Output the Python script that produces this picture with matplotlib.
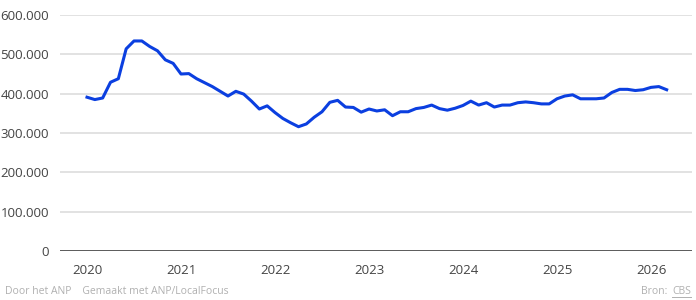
import numpy as np
import matplotlib.pyplot as plt
from matplotlib.ticker import FuncFormatter

plt.rcParams['font.family'] = ['Open Sans', 'DejaVu Sans']

# maandelijkse waarden, jan 2020 t/m mrt 2026
start_year = 2020
values = [391000, 385000, 389000, 429000, 438000, 514000, 534000, 534000, 520000, 509000, 486000, 477000,
          450000, 451000, 438000, 428000, 418000, 406000, 394000, 406000, 399000, 381000, 361000, 369000,
          352000, 337000, 326000, 316000, 323000, 340000, 354000, 378000, 383000, 366000, 365000, 353000,
          361000, 356000, 359000, 344000, 354000, 354000, 362000, 365000, 371000, 362000, 358000, 363000,
          370000, 381000, 371000, 377000, 366000, 371000, 371000, 377000, 379000, 377000, 374000, 374000,
          387000, 394000, 397000, 387000, 387000, 387000, 389000, 403000, 411000, 411000, 408000, 410000,
          416000, 418000, 410000]
years = [2020, 2021, 2022, 2023, 2024, 2025, 2026]
yticks = [0, 100000, 200000, 300000, 400000, 500000, 600000]

x = start_year + np.arange(len(values)) / 12.0

fig = plt.figure(figsize=(6.96, 3.0), dpi=100)
ax = fig.add_axes([60/696, 1-251/300, 632/696, 236/300])

ax.plot(x, values, color='#0b3fe0', lw=2.2, solid_joinstyle='round', zorder=3)

ax.set_ylim(0, 600000)
ax.set_xlim(2020 - 27/94, 2020 + 605/94)
ax.set_yticks(yticks)
ax.set_xticks(years)
ax.yaxis.set_major_formatter(FuncFormatter(lambda v, p: '{:,.0f}'.format(v).replace(',', '.')))

for s in ['top', 'right', 'left', 'bottom']:
    ax.spines[s].set_visible(False)
ax.grid(axis='y', color='#dddddd', lw=1.2)
ax.axhline(0, color='#444444', lw=1.2, zorder=2)
ax.tick_params(axis='both', length=0, labelsize=9.5, labelcolor='#444444')
ax.tick_params(axis='y', pad=8)
ax.tick_params(axis='x', pad=9)

fig.text(5/696, 1-292/300, 'Door het ANP    Gemaakt met ANP/LocalFocus', fontsize=7.5,
         color='#b0b0b0', va='center', ha='left')
cbs = fig.text(691/696, 1-292/300, 'CBS', fontsize=7.5, color='#b0b0b0', va='center', ha='right')
fig.canvas.draw()
bb = cbs.get_window_extent().transformed(fig.transFigure.inverted())
fig.text(bb.x0 - 2/696, 1-292/300, 'Bron: ', fontsize=7.5, color='#b0b0b0', va='center', ha='right')
fig.add_artist(plt.Line2D([bb.x0, bb.x1], [bb.y0 + 1/300, bb.y0 + 1/300],
                          transform=fig.transFigure, color='#b0b0b0', lw=0.7))

fig.savefig('out.png', dpi=100)
